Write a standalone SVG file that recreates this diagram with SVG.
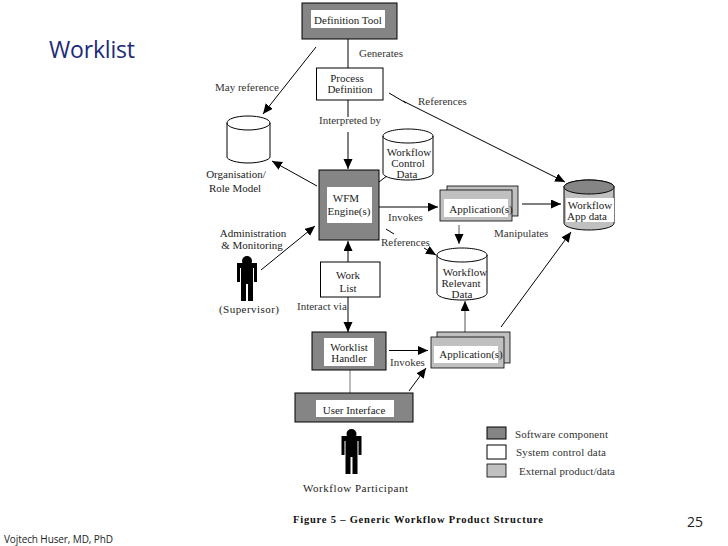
<svg xmlns="http://www.w3.org/2000/svg" width="728" height="546" viewBox="0 0 728 546">
<style>
.s{fill:#858585;stroke:#000;stroke-width:1}
.w{fill:#fff;stroke:#000;stroke-width:1}
.e{fill:#c0c0c0;stroke:#000;stroke-width:.8}
.i{fill:#fff;stroke:none}
.c{fill:#fff;stroke:#000;stroke-width:1}
.t{font-family:"Liberation Serif",serif;font-size:11px;fill:#222;text-anchor:middle}
.l{font-family:"Liberation Serif",serif;font-size:11px;fill:#333}
.a{fill:none;stroke:#000;stroke-width:1;marker-end:url(#h)}
.p{fill:none;stroke:#000;stroke-width:1}
</style>
<defs>
<marker id="h" markerUnits="userSpaceOnUse" markerWidth="11" markerHeight="11" refX="10" refY="4.500" orient="auto"><path d="M0 0L10 4.500L0 9Z" fill="#000"/></marker>
<g id="person"><circle cx="0" cy="5" r="5" fill="#000"/><path d="M-10 7H10V26H7V12H6V45H1V28H-1V45H-6V12H-7V26H-10Z" fill="#000"/></g>
</defs>
<rect width="728" height="546" fill="#fff"/>
<text x="49" y="58" font-family="Open Sans,sans-serif" font-size="23" fill="#1c2a78" textLength="86">Worklist</text>
<text x="4" y="543" font-family="Open Sans,sans-serif" font-size="10" fill="#222" textLength="109">Vojtech Huser, MD, PhD</text>
<text x="687" y="527" font-family="Open Sans,sans-serif" font-size="14" fill="#222" textLength="16">25</text>
<g id="connectors">
<path class="p" d="M348 39V68M348 100V117"/>
<path class="a" d="M348 132V169"/>
<path class="a" d="M316 47L263 114"/>
<path class="p" d="M389 93L406 103"/>
<path class="a" d="M403 101L565 182"/>
<path class="a" d="M317 186L272 161"/>
<path class="a" d="M261 270L315 226"/>
<path class="a" d="M348 262V241"/>
<path class="a" d="M348 297V332"/>
<path d="M350 370V393" fill="none" stroke="#777"/>
<path class="a" d="M389 350.500H428"/>
<path class="a" d="M409 391L426 368"/>
<path d="M465 332V301" fill="none" stroke="#555" marker-end="url(#h)"/>
<path class="a" d="M501 327L571 232"/>
<path class="a" d="M379 207H438"/>
<path class="p" d="M379 182L392 172"/>
<path class="a" d="M522 204H561"/>
<path d="M459 225V244" fill="none" stroke="#555" marker-end="url(#h)"/>
<path class="p" d="M386 229L394 234"/>
<path class="a" d="M424 248L436 255"/>
</g>
<g id="definition-tool"><rect class="s" x="302" y="3" width="95" height="36"/><rect class="i" x="311" y="10" width="74" height="18"/><text class="t" x="348" y="24">Definition Tool</text></g>
<g id="process-definition"><rect class="w" x="316.500" y="68" width="66.500" height="32"/><text class="t" x="347" y="82">Process</text><text class="t" x="350" y="93">Definition</text></g>
<g id="org-model"><path class="c" d="M227 123V157C227 160 237 163 248 163S270 160 270 157V123C270 119 260 116 248 116S227 119 227 123C227 127 237 130 248 130S270 127 270 123"/><text class="t" x="236" y="178">Organisation/</text><text class="t" x="235" y="192">Role Model</text></g>
<g id="workflow-control"><path class="c" d="M383 136V173C383 177 394 180 408 180S433 177 433 173V136C433 132 421 129 408 129S383 132 383 136C383 140 394 143 408 143S433 140 433 136"/><text class="t" x="409" y="156">Workflow</text><text class="t" x="408" y="167">Control</text><text class="t" x="407" y="178">Data</text></g>
<g id="wfm-engine"><rect class="s" x="319" y="170" width="60" height="70"/><rect class="i" x="327" y="187" width="45" height="36"/><text class="t" x="346" y="202">WFM</text><text class="t" x="349" y="215">Engine(s)</text></g>
<g id="application-1"><rect class="e" x="447" y="186" width="71" height="30"/><rect class="e" x="440" y="190" width="72" height="31"/><rect class="i" x="444" y="199" width="64" height="18"/><text class="t" x="481" y="213">Application(s)</text></g>
<g id="app-data"><path d="M564 187V223C564 227 575 230 589 230S614 227 614 223V187C614 183 602 180 589 180S564 183 564 187Z" fill="#c0c0c0" stroke="#000"/><path d="M564 187C564 191 575 194 589 194S614 191 614 187C614 183 602 180 589 180S564 183 564 187Z" fill="#858585" stroke="#000"/><rect class="i" x="566" y="198" width="48" height="24"/><text class="t" x="590" y="209">Workflow</text><text class="t" x="587" y="220">App data</text></g>
<g id="relevant-data"><path class="c" d="M437 255V293C437 297 448 300 462 300S487 297 487 293V255C487 251 475 248 462 248S437 251 437 255C437 259 448 262 462 262S487 259 487 255"/><text class="t" x="465" y="276">Workflow</text><text class="t" x="461" y="287">Relevant</text><text class="t" x="462" y="298">Data</text></g>
<g id="work-list"><rect class="w" x="320.500" y="262" width="59.500" height="35"/><text class="t" x="348" y="279">Work</text><text class="t" x="348" y="292">List</text></g>
<g id="worklist-handler"><rect class="s" x="312" y="332" width="74" height="38"/><rect class="i" x="324" y="338" width="50" height="28"/><text class="t" x="349" y="351">Worklist</text><text class="t" x="349" y="362">Handler</text></g>
<g id="user-interface"><rect class="s" x="295" y="393" width="118" height="29"/><rect class="i" x="316" y="400" width="78" height="17"/><text class="t" x="354" y="414">User Interface</text></g>
<g id="application-2"><rect class="e" x="437" y="332" width="73" height="31"/><rect class="e" x="431" y="337" width="73" height="31"/><rect class="i" x="434" y="346" width="64" height="17"/><text class="t" x="471" y="358">Application(s)</text></g>
<g id="supervisor"><use href="#person" x="247" y="256"/><text class="t" x="253" y="237">Administration</text><text class="t" x="252" y="249">&amp; Monitoring</text><text class="t" x="249" y="313" textLength="60">(Supervisor)</text></g>
<g id="participant"><use href="#person" x="351.500" y="429"/><text class="t" x="355.500" y="492" textLength="105">Workflow Participant</text></g>
<g id="labels">
<text class="l" x="359" y="57">Generates</text>
<text class="l" x="215" y="91">May reference</text>
<text class="l" x="319" y="124">Interpreted by</text>
<text class="l" x="418" y="105">References</text>
<text class="l" x="388" y="221">Invokes</text>
<text class="l" x="381" y="246">References</text>
<text class="l" x="494" y="237">Manipulates</text>
<text class="l" x="297" y="310">Interact via</text>
<text class="l" x="390" y="366">Invokes</text>
</g>
<g id="legend">
<rect class="s" x="487" y="427" width="19" height="12"/><rect class="w" x="487" y="445" width="19" height="14"/><rect class="e" x="487" y="464" width="19" height="13"/>
<text class="l" x="515" y="438" textLength="93">Software component</text>
<text class="l" x="516" y="456" textLength="90">System control data</text>
<text class="l" x="519" y="475" textLength="96">External product/data</text>
</g>
<text x="293" y="523" font-family="Liberation Serif,serif" font-size="10.500" font-weight="700" fill="#111" textLength="250">Figure 5 – Generic Workflow Product Structure</text>
</svg>
